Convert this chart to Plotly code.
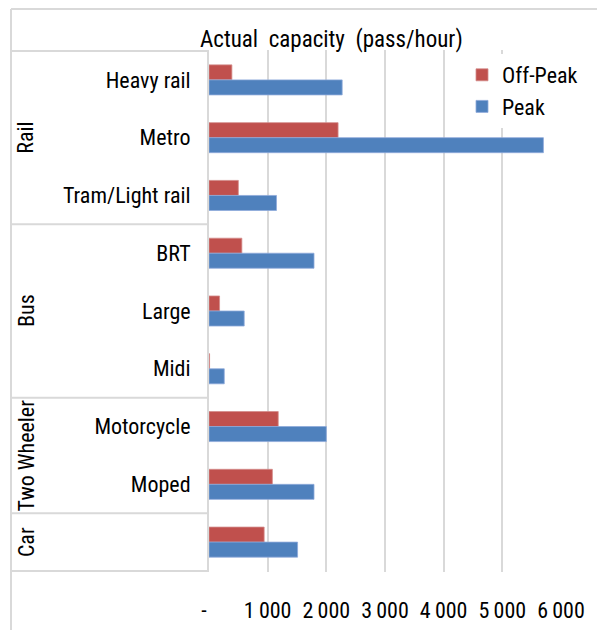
import plotly.graph_objects as go

# ---- data ----
subcategories = ["Heavy rail", "Metro", "Tram/Light rail", "BRT", "Large", "Midi",
                 "Motorcycle", "Moped", " "]
groups = ["Rail", "Bus", "Two Wheeler", "Car"]
group_sizes = [3, 3, 2, 1]
off_peak = [390, 2200, 500, 560, 180, 10, 1180, 1080, 940]
peak = [2270, 5700, 1150, 1790, 600, 260, 2000, 1790, 1510]
x_tickvals = [0, 1000, 2000, 3000, 4000, 5000, 6000]
x_ticktext = ["-\u00a0\u00a0", "1\u2009000", "2\u2009000", "3\u2009000", "4\u2009000", "5\u2009000", "6\u2009000"]

FONT = "Liberation Sans Narrow, Arial Narrow, Roboto Condensed, DejaVu Sans Condensed, sans-serif"
GRID = "#D9D9D9"
RED = "#C0504D"
BLUE = "#4F81BD"

W, H = 597, 630
L, R, T, B = 209, 36, 50, 58
pw, ph = W - L - R, H - T - B

def px_x(px):
    return (px - L) / pw

def px_y(py):
    return (H - B - py) / ph

fig = go.Figure()
fig.add_trace(go.Bar(name="Off-Peak", y=subcategories, x=off_peak, orientation="h",
                     marker=dict(color=RED, line=dict(color="#D38C8A", width=0.8))))
fig.add_trace(go.Bar(name="Peak", y=subcategories, x=peak, orientation="h",
                     marker=dict(color=BLUE, line=dict(color="#8EAADB", width=0.8))))

shapes = []
# chart border (top and left)
shapes.append(dict(type="line", xref="paper", yref="paper", x0=px_x(11), x1=px_x(W + 5),
                   y0=px_y(9), y1=px_y(9), line=dict(color=GRID, width=2)))
shapes.append(dict(type="line", xref="paper", yref="paper", x0=px_x(11), x1=px_x(11),
                   y0=px_y(9), y1=px_y(H + 5), line=dict(color=GRID, width=2)))
# category table lines
bounds = [-0.5]
acc = -0.5
for s in group_sizes:
    acc += s
    bounds.append(acc)
for b in bounds:
    shapes.append(dict(type="line", xref="paper", yref="y", x0=px_x(11), x1=0,
                       y0=b, y1=b, line=dict(color=GRID, width=2)))

annotations = []
start = 0
for g, s in zip(groups, group_sizes):
    center = start + (s - 1) / 2
    annotations.append(dict(text=g, xref="paper", yref="y", x=px_x(26), y=center,
                            textangle=-90, showarrow=False, xanchor="center", yanchor="middle",
                            font=dict(family=FONT, size=22, color="#000")))
    start += s

annotations.append(dict(text="Actual\u00a0\u00a0capacity\u00a0\u00a0(pass/hour)", xref="paper", yref="paper",
                        x=px_x(331), y=px_y(39), showarrow=False, xanchor="center", yanchor="middle",
                        font=dict(family=FONT, size=23, color="#000")))

fig.update_layout(
    width=W, height=H,
    margin=dict(l=L, r=R, t=T, b=B, pad=0),
    paper_bgcolor="white", plot_bgcolor="white",
    barmode="group", bargap=0.48, bargroupgap=0,
    font=dict(family=FONT, size=22, color="#000"),
    showlegend=True,
    legend=dict(x=px_x(462), y=px_y(54), xanchor="left", yanchor="top",
                bgcolor="white", borderwidth=0, traceorder="normal",
                font=dict(family=FONT, size=22, color="#000"),
                itemwidth=30, tracegroupgap=0),
    shapes=shapes,
    annotations=annotations,
)
fig.update_xaxes(range=[0, 6000], tickvals=x_tickvals, ticktext=x_ticktext, automargin=False,
                 showgrid=True, gridcolor=GRID, gridwidth=2, zeroline=False,
                 showline=False, ticks="", ticklabelstandoff=23,
                 tickfont=dict(family=FONT, size=22, color="#000"), fixedrange=True)
fig.update_yaxes(categoryorder="array", categoryarray=subcategories, autorange="reversed",
                 automargin=False,
                 showgrid=False, showline=True, linecolor=GRID, linewidth=2,
                 ticks="", ticklabelstandoff=12,
                 tickfont=dict(family=FONT, size=22, color="#000"), fixedrange=True)

fig.write_html("out.html", config={"displayModeBar": False},
               post_script="document.body.style.margin='0';document.body.style.padding='0';")
